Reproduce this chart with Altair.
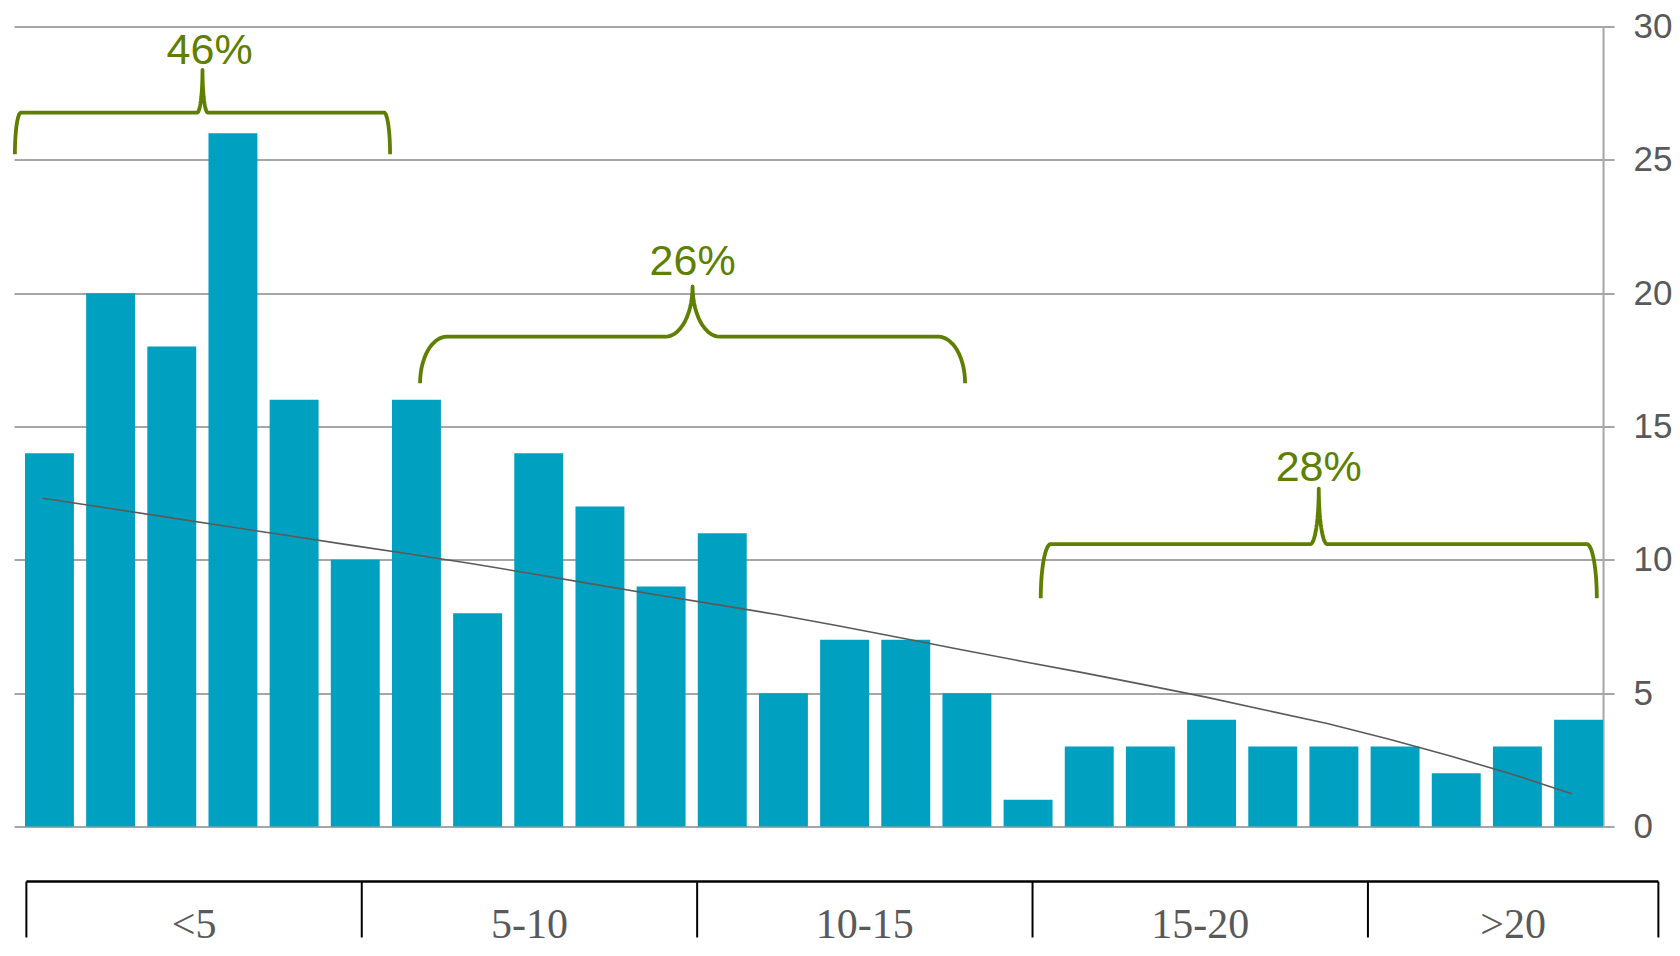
import math
import altair as alt
import pandas as pd

# ---------------- data ----------------
bar_index = list(range(1, 27))
bar_values = [14, 20, 18, 26, 16, 10, 16, 8, 14, 12, 9, 11, 5, 7, 7, 5,
              1, 3, 3, 4, 3, 3, 3, 2, 3, 4]
trend_values = [12.31, 11.96, 11.61, 11.26, 10.91, 10.56, 10.22, 9.86, 9.48,
                9.09, 8.70, 8.33, 7.95, 7.53, 7.09, 6.64, 6.20, 5.77, 5.32,
                4.86, 4.36, 3.86, 3.28, 2.65, 1.98, 1.23]
y_ticks = [0, 5, 10, 15, 20, 25, 30]

# bracket annotations (in bar-index / value units)
bracket_labels = ["46%", "26%", "28%"]
bracket_from = [0.435, 7.059, 17.207]
bracket_to = [6.569, 15.97, 26.298]
bracket_level = [26.77, 18.37, 10.59]
bracket_end = [25.21, 16.62, 8.56]
bracket_tip = [28.37, 20.25, 12.67]
bracket_label_x = [3.618, 11.515, 21.752]
bracket_label_y = [28.61, 20.69, 12.97]
# corner / cusp widths in pixels (shape of each brace)
bracket_corner_px = [6, 27, 10]
bracket_cusp_px = [5.3, 27, 8.4]

# bottom table (bins)
table_labels = ["<5", "5-10", "10-15", "15-20", ">20"]
table_edges = [0, 5, 10, 15, 20, 24.33]

# ---------------- styling ----------------
W, H = 1589, 800
XDOM = [0.421, 26.40]
BAR = "#00a0c1"
GREEN = "#5e7f00"
GRID = "#a6a6a6"
LABEL = "#595959"

PXX = W / (XDOM[1] - XDOM[0])

# ---------------- bracket paths ----------------
rows = []
N = 14
for g in range(len(bracket_labels)):
    x0, x1 = bracket_from[g], bracket_to[g]
    xc = (x0 + x1) / 2
    lvl, end, tip = bracket_level[g], bracket_end[g], bracket_tip[g]
    rx = bracket_corner_px[g] / PXX
    cw = bracket_cusp_px[g] / PXX
    ry = lvl - end
    ch = tip - lvl
    pts = []
    for j in range(N + 1):
        t = (math.pi / 2) * j / N
        pts.append((x0 + rx - rx * math.cos(t), end + ry * math.sin(t)))
    for j in range(N + 1):
        t = (math.pi / 2) * j / N
        pts.append((xc - cw + cw * math.sin(t), tip - ch * math.cos(t)))
    for j in range(N + 1):
        t = (math.pi / 2) * j / N
        pts.append((xc + cw - cw * math.cos(t), tip - ch * math.sin(t)))
    for j in range(N + 1):
        t = (math.pi / 2) * j / N
        pts.append((x1 - rx + rx * math.sin(t), end + ry * math.cos(t)))
    for k, (px, py) in enumerate(pts):
        rows.append({"g": g, "k": k, "x": px, "y": py})
bracket_df = pd.DataFrame(rows)
label_df = pd.DataFrame({"lab": bracket_labels, "x": bracket_label_x,
                         "y": bracket_label_y})

base_df = pd.DataFrame({"i": bar_index, "v": bar_values, "t": trend_values})

x_scale = alt.Scale(domain=XDOM, nice=False, zero=False)
y_scale = alt.Scale(domain=[0, 30], nice=False)
y_axis = alt.Axis(orient="right", values=y_ticks, title=None, grid=True)

bars = alt.Chart(base_df).transform_calculate(
    a="datum.i - 0.4", b="datum.i + 0.4"
).mark_bar(color=BAR).encode(
    x=alt.X("a:Q", scale=x_scale, axis=None),
    x2="b:Q",
    y=alt.Y("v:Q", scale=y_scale, axis=y_axis),
    y2=alt.datum(0),
)

trend_line = alt.Chart(base_df).transform_calculate(
    tx="datum.i - 0.11"
).mark_line(color="#5a5a5a", strokeWidth=1.6).encode(
    x=alt.X("tx:Q", scale=x_scale, axis=None),
    y=alt.Y("t:Q", scale=y_scale, axis=y_axis),
)

br_lines = alt.Chart(bracket_df).mark_line(
    color=GREEN, strokeWidth=3.8, strokeJoin="round"
).encode(
    x=alt.X("x:Q", scale=x_scale, axis=None),
    y=alt.Y("y:Q", scale=y_scale, axis=y_axis),
    detail="g:N",
    order="k:Q",
)

br_text = alt.Chart(label_df).mark_text(
    font="Liberation Sans", fontSize=43, color=GREEN,
    baseline="alphabetic", align="center"
).encode(
    x=alt.X("x:Q", scale=x_scale, axis=None),
    y=alt.Y("y:Q", scale=y_scale, axis=y_axis),
    text="lab:N",
)

top = alt.layer(bars, trend_line, br_lines, br_text).properties(width=W, height=H)

# ---------------- bottom table ----------------
tdf = pd.DataFrame({"lab": table_labels, "s": table_edges[:-1], "e": table_edges[1:]})
edge_df = pd.DataFrame({"x": table_edges})
span_df = pd.DataFrame({"a": [table_edges[0]], "b": [table_edges[-1]]})
tscale = alt.Scale(domain=[table_edges[0], table_edges[-1]], nice=False, zero=False)

vrules = alt.Chart(edge_df).mark_rule(color="black", strokeWidth=2).encode(
    x=alt.X("x:Q", scale=tscale, axis=None)
)
toprule = alt.Chart(span_df).mark_rule(color="black", strokeWidth=2.5).encode(
    x=alt.X("a:Q", scale=tscale, axis=None), x2="b:Q", y=alt.value(0)
)
ttext = alt.Chart(tdf).transform_calculate(m="(datum.s + datum.e) / 2").mark_text(
    font="Liberation Serif", fontSize=42, color=LABEL, dy=15.5
).encode(
    x=alt.X("m:Q", scale=tscale, axis=None),
    text="lab:N",
)
table = alt.layer(vrules, toprule, ttext).properties(width=1632, height=56)

chart = alt.vconcat(top, table, spacing=35, center=True).properties(
    padding={"left": 4, "top": 1.5, "right": 0, "bottom": 0}
).configure_view(stroke=None).configure_axis(
    gridColor=GRID, gridWidth=2,
    domainColor=GRID, domainWidth=2,
    tickColor=GRID, tickWidth=2, tickSize=11,
    labelFont="Liberation Sans", labelFontSize=35, labelColor=LABEL,
    labelPadding=19,
)

chart.save("out.html", embed_options={"renderer": "svg", "actions": False})
